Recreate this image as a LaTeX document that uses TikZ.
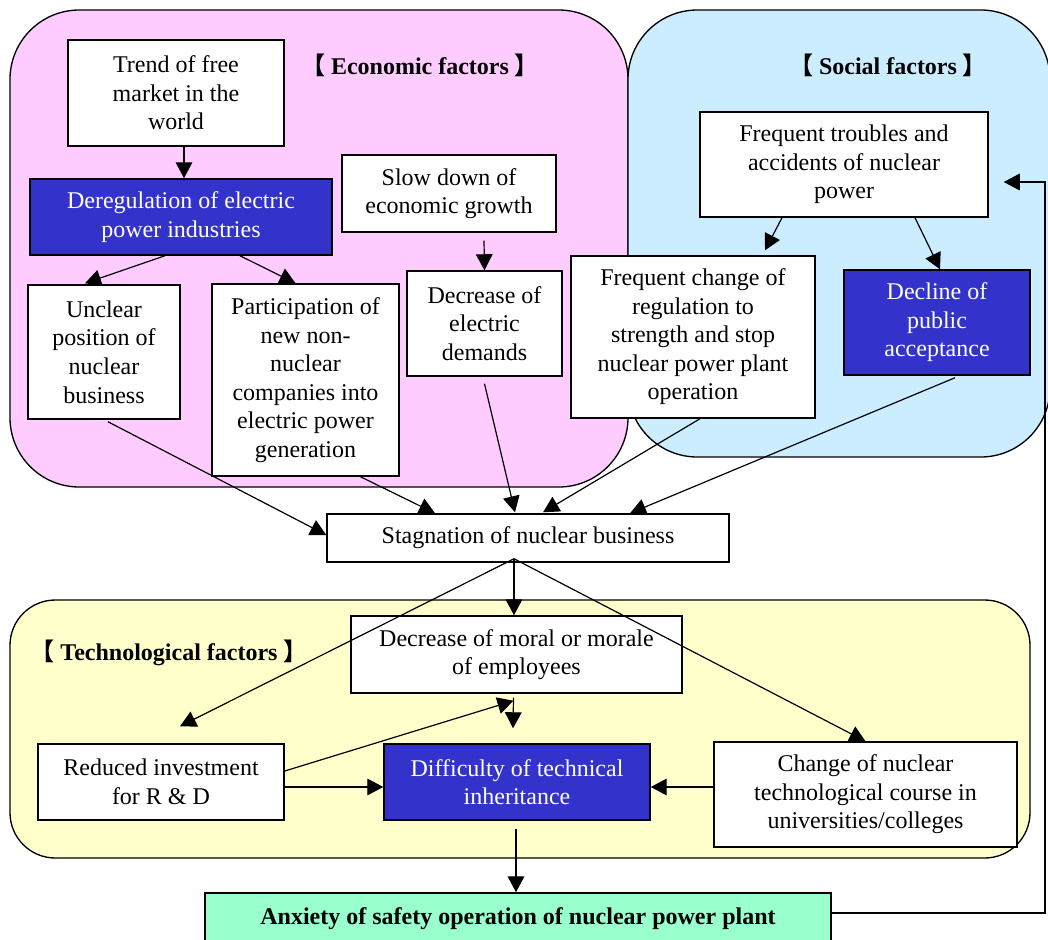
\documentclass[tikz,border=0pt]{standalone}
\usepackage{fontspec}
\setmainfont{Liberation Serif}
\newfontfamily\cjk{Noto Sans CJK SC}
\usetikzlibrary{arrows.meta,calc}

\definecolor{ecobg}{RGB}{255,204,255}
\definecolor{socbg}{RGB}{204,236,255}
\definecolor{techbg}{RGB}{255,255,204}
\definecolor{keyblue}{RGB}{51,51,204}
\definecolor{anxbg}{RGB}{153,255,204}

\tikzset{
  region/.style={draw, line width=1pt},
  box/.style={draw, line width=1.1pt, fill=white, align=center, inner sep=0pt,
    font=\fontsize{18}{21.4}\selectfont},
  keybox/.style={box, fill=keyblue, text=white},
  heading/.style={inner sep=0pt, font=\fontsize{18}{21.4}\selectfont\bfseries},
  arr/.style={line width=0.9pt, -{Triangle[length=12pt,width=12.5pt]}},
}
\newcommand{\lbr}{{\cjk\bfseries 【}}
\newcommand{\rbr}{{\cjk\bfseries 】}}

\begin{document}
\begin{tikzpicture}[x=0.75pt,y=0.75pt,yscale=-1,xscale=1]
\useasboundingbox (0,0) rectangle (1048,939);
\clip (0,0) rectangle (1048,939);

%Shape: Rounded Rectangle (economic)
\draw [region, fill=ecobg, rounded corners=52pt] (10,10) rectangle (628,487);
%Shape: Rounded Rectangle (social)
\draw [region, fill=socbg, rounded corners=52pt] (628,10) rectangle (1050,457);
%Shape: Rounded Rectangle (technological)
\draw [region, fill=techbg, rounded corners=34pt] (10,600) rectangle (1030,858);

% Text Node
\node [heading] (ecohead) at (420,65) {\lbr\ Economic factors \rbr};
% Text Node
\node [heading] (sochead) at (888,65) {\lbr\ Social factors \rbr};
% Text Node
\node [heading] (techhead) at (169,653) {\lbr\ Technological factors \rbr};

% economic factors
\node [box, minimum width=162pt, minimum height=79.5pt] (trend) at (176,93) {Trend of free\\market in the\\world};
\node [keybox, minimum width=226.5pt, minimum height=57pt] (dereg) at (181,217) {Deregulation of electric\\power industries};
\node [box, minimum width=160.5pt, minimum height=57.75pt] (slow) at (449,193.5) {Slow down of\\economic growth};
\node [box, minimum width=114pt, minimum height=100.5pt] (unclear) at (104,352) {Unclear\\position of\\nuclear\\business};
\node [box, minimum width=140.25pt, minimum height=144pt] (partic) at (305.5,380) {Participation of\\new non-\\nuclear\\companies into\\electric power\\generation};
\node [box, minimum width=116.25pt, minimum height=78.75pt] (demand) at (484.5,323.5) {Decrease of\\electric\\demands};

% social factors
\node [box, minimum width=216pt, minimum height=78.75pt] (trouble) at (844,164.5) {Frequent troubles and\\accidents of nuclear\\power};
\node [box, minimum width=183pt, minimum height=121.5pt] (regchange) at (693,337) {Frequent change of\\regulation to\\strength and stop\\nuclear power plant\\operation};
\node [keybox, minimum width=139.5pt, minimum height=78.75pt] (decline) at (937,322.5) {Decline of\\public\\acceptance};

% centre
\node [box, minimum width=301.5pt, minimum height=36pt] (stag) at (528,538) {Stagnation of nuclear business};

% technological factors
\node [box, minimum width=248.25pt, minimum height=57.75pt] (morale) at (516.5,654.5) {Decrease of moral or morale\\of employees};
\node [box, minimum width=184.5pt, minimum height=57pt] (invest) at (161,782) {Reduced investment\\for R \& D};
\node [keybox, minimum width=199.5pt, minimum height=57pt] (inherit) at (517,782) {Difficulty of technical\\inheritance};
\node [box, minimum width=227.25pt, minimum height=78.75pt] (course) at (865.5,794.5) {Change of nuclear\\technological course in\\universities/colleges};

% result
\node [box, fill=anxbg, font=\fontsize{18}{21.4}\selectfont\bfseries, minimum width=469.5pt, minimum height=39pt] (anxiety) at (518,919) {Anxiety of safety operation of nuclear power plant};

\coordinate (hub) at ($(stag.south)+(-14,-4)$);
\coordinate (loop) at (1045,182);

%Straight Lines
\draw [arr] ($(trend.south)+(8,0)$) -- ($(dereg.north)+(3,0)$);
\draw [arr] ($(dereg.south)+(-16,0)$) -- ($(unclear.north)+(-19,-1)$);
\draw [arr] ($(dereg.south)+(59,0)$) -- ($(partic.north)+(-10,0)$);
\draw [arr] ($(slow.south)+(35,8)$) -- (demand.north);
\draw [arr] ($(trouble.south)+(-62,0)$) -- ($(regchange.north)+(72,-5)$);
\draw [arr] ($(trouble.south)+(71,0)$) -- ($(decline.north)+(3,0)$);

\draw [arr] ($(unclear.south)+(4,2)$) -- ($(stag.west)+(0,-3)$);
\draw [arr] ($(partic.south)+(55,0)$) -- ($(stag.north)+(-93,0)$);
\draw [arr] ($(demand.south)+(0,7)$) -- ($(stag.north)+(-13,-1)$);
\draw [arr] ($(regchange.south)+(7,0)$) -- ($(stag.north)+(15,-1)$);
\draw [arr] ($(decline.south)+(18,2)$) -- ($(stag.north)+(102,0)$);

\draw [arr] (hub) -- ($(morale.north)+(-2.5,0)$);
\draw [arr] (hub) -- ($(invest.north)+(19,-17)$);
\draw [arr] (hub) -- (course.north);

\draw [arr] ($(morale.south)+(-3,4)$) -- ($(inherit.north)+(-4,-15)$);
\draw [arr] ($(invest.east)+(0,-11)$) -- ($(morale.south)+(-3,7)$);
\draw [arr] ($(invest.east)+(0,5)$) -- ($(inherit.west)+(0,5)$);
\draw [arr] ($(course.west)+(0,-7.5)$) -- ($(inherit.east)+(0,5)$);
\draw [arr] ($(inherit.south)+(-1,8)$) -- ($(anxiety.north)+(-2,0)$);

%Feedback line
\draw [arr] ($(anxiety.east)+(0,-6)$) -| (loop) -- ($(trouble.east)+(15,17.5)$);

\end{tikzpicture}
\end{document}
